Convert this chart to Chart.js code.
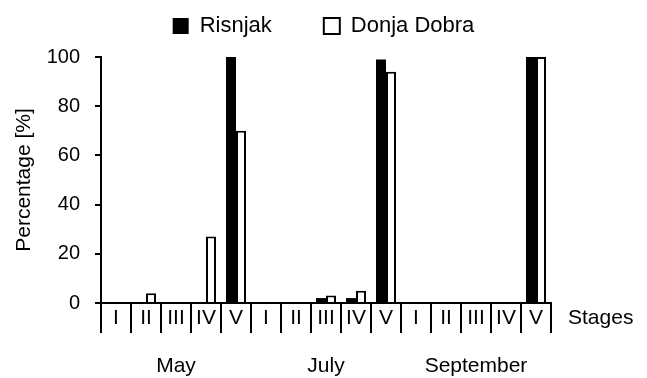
<!DOCTYPE html>
<html>
<head>
<meta charset="utf-8">
<script src="https://cdn.jsdelivr.net/npm/chart.js@4/dist/chart.umd.min.js"></script>
<style>
  html, body { margin: 0; padding: 0; background: #fff; }
  #wrap { width: 647px; height: 378px; }
</style>
</head>
<body>
<div id="wrap"><canvas id="stagesChart"></canvas></div>
<script>
// stages per month
const stages = ['I', 'II', 'III', 'IV', 'V', 'I', 'II', 'III', 'IV', 'V', 'I', 'II', 'III', 'IV', 'V'];
const months = ['May', 'July', 'September'];

// percentages
const risnjak = [0, 0, 0, 0, 100, 0, 0, 2, 2, 99, 0, 0, 0, 0, 100];
const donjaDobra = [0, 4, 0, 27, 70, 0, 0, 3, 5, 94, 0, 0, 0, 0, 100];

const yMin = 0;
const yMax = 100;
const yStep = 20;

Chart.defaults.font.family = '"Liberation Sans", Arial, sans-serif';
Chart.defaults.color = '#000';

// "Stages" label to the right of the axis, and a bit more room under the legend
const extras = {
    id: 'extras',
    beforeLayout(chart) {
        const lg = chart.legend;
        if (lg && !lg._taller) {
            const fit = lg.fit;
            lg.fit = function () {
                fit.call(this);
                this.height += 10;
            };
            lg._taller = true;
        }
    },
    afterDraw(chart) {
        const ctx = chart.ctx;
        const x = chart.scales.x;
        ctx.save();
        ctx.font = '21px "Liberation Sans", Arial, sans-serif';
        ctx.fillStyle = '#000';
        ctx.textBaseline = 'middle';
        ctx.textAlign = 'left';
        ctx.fillText('Stages', chart.chartArea.right + 17, x.top + 15);
        ctx.restore();
    }
};

const ctx = document.getElementById('stagesChart').getContext('2d');
new Chart(ctx, {
    type: 'bar',
    data: {
        labels: stages,
        datasets: [{
            label: 'Risnjak',
            data: risnjak,
            xAxisID: 'x',
            yAxisID: 'y',
            backgroundColor: '#000',
            borderColor: '#000',
            borderWidth: 0
        }, {
            label: 'Donja Dobra',
            data: donjaDobra,
            xAxisID: 'x',
            yAxisID: 'y',
            backgroundColor: '#fff',
            borderColor: '#000',
            borderWidth: 2
        }]
    },
    options: {
        responsive: true,
        maintainAspectRatio: false,
        animation: false,
        barPercentage: 1,
        categoryPercentage: 0.667,
        clip: false,
        layout: {
            padding: { top: -37, right: 8, left: 8, bottom: 0 }
        },
        plugins: {
            legend: {
                position: 'top',
                labels: {
                    boxWidth: 16,
                    boxHeight: 16,
                    padding: 52,
                    font: { size: 22 },
                    color: '#000'
                }
            },
            tooltip: { enabled: false }
        },
        scales: {
            x: {
                type: 'category',
                offset: true,
                position: 'bottom',
                border: { color: '#000', width: 2 },
                grid: {
                    offset: true,
                    drawOnChartArea: false,
                    drawTicks: true,
                    tickLength: 30,
                    color: '#000',
                    lineWidth: 2
                },
                ticks: {
                    font: { size: 21 },
                    color: '#000',
                    padding: -27,
                    maxRotation: 0,
                    autoSkip: false
                },
                afterFit(scale) { scale.height = 30; }
            },
            x2: {
                type: 'category',
                labels: months,
                offset: true,
                position: 'bottom',
                border: { display: false },
                grid: { display: false, drawTicks: false },
                ticks: {
                    font: { size: 21 },
                    color: '#000',
                    padding: 21,
                    maxRotation: 0,
                    autoSkip: false
                },
                afterFit(scale) { scale.height = 45; }
            },
            y: {
                min: yMin,
                max: yMax,
                position: 'left',
                border: { color: '#000', width: 2 },
                grid: {
                    drawOnChartArea: false,
                    tickLength: 6,
                    color: '#000',
                    lineWidth: 2
                },
                ticks: {
                    stepSize: yStep,
                    font: { size: 20 },
                    color: '#000',
                    padding: 15
                },
                title: {
                    display: true,
                    text: 'Percentage [%]',
                    font: { size: 21 },
                    color: '#000',
                    padding: { top: 4, bottom: 4 }
                },
                afterFit(scale) { scale.width = 93; }
            },
            // empty space on the right for the "Stages" label
            yRight: {
                type: 'linear',
                position: 'right',
                border: { display: false },
                grid: { display: false },
                ticks: { display: false },
                afterFit(scale) { scale.width = 88; }
            }
        }
    },
    plugins: [extras]
});
</script>
</body>
</html>
